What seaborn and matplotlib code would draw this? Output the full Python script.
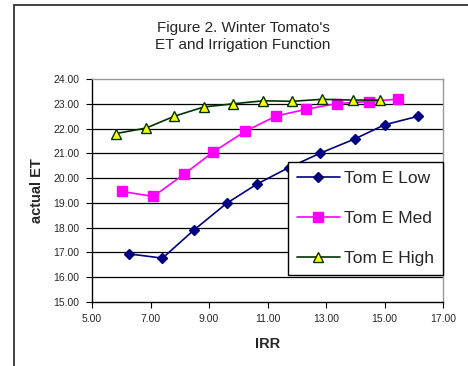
import matplotlib
matplotlib.use("Agg")
import matplotlib.pyplot as plt
from matplotlib.lines import Line2D
import seaborn as sns
import pandas as pd

# values
low_irr = [6.28, 7.41, 8.48, 9.60, 10.64, 11.72, 12.81, 13.98, 15.00, 16.16]
low_et = [16.94, 16.77, 17.90, 18.98, 19.76, 20.42, 21.01, 21.58, 22.15, 22.50]
med_irr = [6.03, 7.10, 8.16, 9.15, 10.24, 11.30, 12.33, 13.38, 14.46, 15.47]
med_et = [19.46, 19.26, 20.17, 21.06, 21.89, 22.51, 22.78, 23.01, 23.09, 23.19]
high_irr = [5.83, 6.85, 7.82, 8.82, 9.83, 10.85, 11.85, 12.87, 13.91, 14.86]
high_et = [21.80, 22.02, 22.50, 22.87, 23.00, 23.12, 23.10, 23.18, 23.15, 23.15]
series_names = ["Tom E Low", "Tom E Med", "Tom E High"]

df = pd.concat([
    pd.DataFrame({"IRR": low_irr, "ET": low_et, "series": series_names[0]}),
    pd.DataFrame({"IRR": med_irr, "ET": med_et, "series": series_names[1]}),
    pd.DataFrame({"IRR": high_irr, "ET": high_et, "series": series_names[2]}),
])

sns.set_style("white")
plt.rcParams["font.family"] = ["Liberation Sans", "DejaVu Sans"]

fig = plt.figure(figsize=(4.68, 3.66), dpi=100)
ax = fig.add_axes([92 / 468, 1 - 302 / 366, 351 / 468, 223 / 366])

styles = {
    "Tom E Low": dict(color="#000080", marker="D", mfc="#000080", mec="#000080", ms=5.5),
    "Tom E Med": dict(color="#FF00FF", marker="s", mfc="#FF00FF", mec="#FF00FF", ms=7),
    "Tom E High": dict(color="#003300", marker="^", mfc="#FFFF00", mec="#003300", ms=7),
}

for name in series_names:
    st = styles[name]
    sub = df[df["series"] == name]
    sns.lineplot(data=sub, x="IRR", y="ET", ax=ax, color=st["color"], lw=1.2,
                 marker=st["marker"], markerfacecolor=st["mfc"],
                 markeredgecolor=st["mec"], markersize=st["ms"],
                 markeredgewidth=1, label=name, sort=False, zorder=3)

ax.set_xlim(5, 17)
ax.set_ylim(15, 24)
ax.set_xticks([5, 7, 9, 11, 13, 15, 17])
ax.set_yticks(range(15, 25))
ax.xaxis.set_major_formatter(matplotlib.ticker.FormatStrFormatter("%.2f"))
ax.yaxis.set_major_formatter(matplotlib.ticker.FormatStrFormatter("%.2f"))
ax.tick_params(labelsize=7.5, length=4, width=0.8, color="black", direction="out",
               bottom=True, left=True, pad=5)
for y in range(16, 24):
    ax.axhline(y, color="black", lw=0.9, zorder=1)

for s in ["top", "right"]:
    ax.spines[s].set_color("#999999")
    ax.spines[s].set_linewidth(1)
for s in ["left", "bottom"]:
    ax.spines[s].set_color("black")
    ax.spines[s].set_linewidth(1)

ax.set_xlabel("IRR", fontsize=10.5, fontweight="bold", labelpad=9)
ax.set_ylabel("actual ET", fontsize=10.5, fontweight="bold", labelpad=7)

leg = ax.legend(loc="upper left", bbox_to_anchor=(196 / 351, 140 / 223, 156 / 351, 0.0),
                frameon=True, fancybox=False, fontsize=12.5, handlelength=2.5,
                labelspacing=1.45, borderpad=0.5, handletextpad=0.25,
                borderaxespad=0)
leg.get_frame().set_edgecolor("black")
leg.get_frame().set_linewidth(1)
leg.get_frame().set_alpha(1)
leg.set_zorder(5)

fig.text(243 / 468, 1 - 28 / 366, "Figure 2. Winter Tomato's", ha="center", va="center", fontsize=11)
fig.text(243 / 468, 1 - 45 / 366, "ET and Irrigation Function", ha="center", va="center", fontsize=11)

# outer chart frame (only the left and top edges are visible in the crop)
fig.add_artist(Line2D([13.5 / 468, 13.5 / 468], [0, 1 - 5 / 366], color="#333333", lw=1.3))
fig.add_artist(Line2D([13.5 / 468, 1], [1 - 5 / 366, 1 - 5 / 366], color="#333333", lw=1.3))

plt.savefig("out.png", dpi=100)
